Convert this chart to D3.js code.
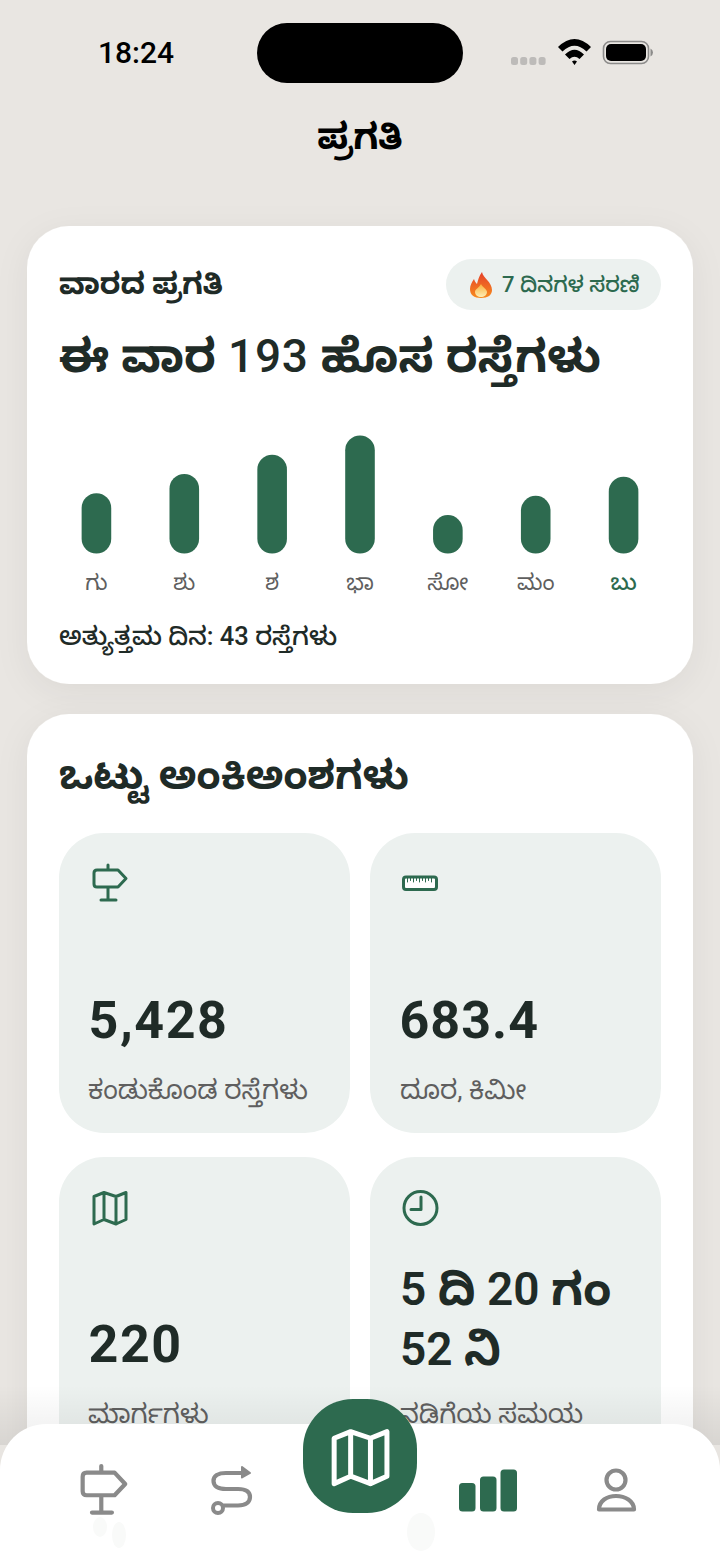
<!DOCTYPE html>
<html>
<head>
<meta charset="utf-8">
<script src="https://cdn.jsdelivr.net/npm/d3@7"></script>
<style>
html, body { margin: 0; padding: 0; background: #e9e6e2; }
svg { display: block; }
text { font-family: "Noto Sans Kannada", "Noto Sans", Roboto, sans-serif; }
.x-axis path, .x-axis line { display: none; }
</style>
</head>
<body>
<div id="chart"></div>
<script>
// Chart data
var days = ["ಗು", "ಶು", "ಶ", "ಭಾ", "ಸೋ", "ಮಂ", "ಬು"];
var roads = [22, 29, 36, 43, 14, 21, 28];
var statValues = ["5,428", "683.4", "220"];
var statLabels = ["ಕಂಡುಕೊಂಡ ರಸ್ತೆಗಳು", "ದೂರ, ಕಿಮೀ", "ಮಾರ್ಗಗಳು", "ನಡಿಗೆಯ ಸಮಯ"];
var timeLines = ["5 ದಿ 20 ಗಂ", "52 ನಿ"];

var w = 720;
var h = 1564;
var green = "#2d6a4f";
var dark = "#1f2b27";
var tile = "#ecf1ef";
var gray = "#8a8a8a";

var svg = d3.select("#chart")
    .append("svg")
    .attr("width", w)
    .attr("height", h);

var defs = svg.append("defs");

var shadow = defs.append("filter").attr("id", "shadow")
    .attr("x", "-10%").attr("y", "-10%").attr("width", "120%").attr("height", "120%");
shadow.append("feDropShadow")
    .attr("dx", 0).attr("dy", 8).attr("stdDeviation", 16)
    .attr("flood-color", "#000").attr("flood-opacity", 0.06);

var fade = defs.append("linearGradient").attr("id", "fade")
    .attr("x1", 0).attr("y1", 0).attr("x2", 0).attr("y2", 1);
fade.append("stop").attr("offset", "0%").attr("stop-color", "#000").attr("stop-opacity", 0);
fade.append("stop").attr("offset", "100%").attr("stop-color", "#000").attr("stop-opacity", 0.07);

var flameOuter = defs.append("linearGradient").attr("id", "flameOuter")
    .attr("x1", 0).attr("y1", 0).attr("x2", 0).attr("y2", 1);
flameOuter.append("stop").attr("offset", "0%").attr("stop-color", "#e5402a");
flameOuter.append("stop").attr("offset", "100%").attr("stop-color", "#f78c1e");

var flameInner = defs.append("linearGradient").attr("id", "flameInner")
    .attr("x1", 0).attr("y1", 0).attr("x2", 0).attr("y2", 1);
flameInner.append("stop").attr("offset", "0%").attr("stop-color", "#fbb03b");
flameInner.append("stop").attr("offset", "100%").attr("stop-color", "#fdeeb5");

// Kannada runs use the Kannada font, digit runs come from Roboto and can be lighter
function label(x, y, str, size, weight, fill, anchor, digitWeight) {
    var t = svg.append("text")
        .attr("x", x).attr("y", y)
        .attr("font-size", size)
        .attr("font-weight", weight)
        .attr("fill", fill)
        .attr("text-anchor", anchor || "start");
    str.match(/[\u0C80-\u0CFF]+|[^\u0C80-\u0CFF]+/g).forEach(function (run) {
        var span = t.append("tspan").text(run);
        if (!/[\u0C80-\u0CFF]/.test(run)) {
            span.attr("class", "digits")
                .style("font-family", "Roboto")
                .attr("font-weight", digitWeight || weight);
        }
    });
    return t;
}

// Wider digit spacing for the big numbers
function track(t, spacing) {
    t.selectAll(".digits").style("letter-spacing", spacing);
    return t;
}

function card(x, y, width, height, r, fill) {
    return svg.append("rect")
        .attr("x", x).attr("y", y)
        .attr("width", width).attr("height", height)
        .attr("rx", r).attr("ry", r)
        .attr("fill", fill);
}

function icon(x, y, k, d, color, sw) {
    return svg.append("path")
        .attr("transform", "translate(" + x + "," + y + ") scale(" + k + ")")
        .attr("d", d)
        .attr("fill", "none")
        .attr("stroke", color)
        .attr("stroke-width", sw / k)
        .attr("stroke-linecap", "round")
        .attr("stroke-linejoin", "round");
}

var signPath = "M16,0V5M5,5H26L34,13.5L26,22H5Q2,22 2,19V8Q2,5 5,5ZM16,22V35M9,35H24";
var mapPath = "M1,5L11,1L23,5L33,1V28L23,32.5L11,28L1,32.5ZM11,1V28M23,5V32.5";

// Status bar
svg.append("text").attr("x", 98).attr("y", 63)
    .attr("font-size", 30).attr("font-weight", 500).attr("fill", "#000")
    .style("font-family", "Roboto").text("18:24");
card(257, 23, 206, 60, 30, "#000");
svg.append("g").selectAll("rect")
    .data([0, 1, 2, 3])
    .enter().append("rect")
    .attr("x", function (d) { return 511 + d * 9.2; })
    .attr("y", 57).attr("width", 7).attr("height", 8).attr("rx", 2.5)
    .attr("fill", "#bdbbb9");
// wifi
svg.append("path")
    .attr("d", "M558,47Q574.5,31 591,47L586.5,51.5Q574.5,40 562.5,51.5ZM565,54.5Q574.5,45 584,54.5L579.5,59Q574.5,54.5 569.5,59ZM572,61.5Q574.5,59.5 577,61.5L574.5,65Z")
    .attr("fill", "#000");
// battery
card(603.5, 41.5, 45, 22, 7, "none").attr("stroke", "#8c8b8a").attr("stroke-width", 1.6);
card(606, 44, 40, 17, 5, "#000");
svg.append("path").attr("d", "M650.5,48.5Q653,50 653,52.5Q653,55 650.5,56.5Z").attr("fill", "#8c8b8a");

// Title
label(360, 149, "ಪ್ರಗತಿ", 36, 700, "#000", "middle");

// Weekly card
card(27, 226, 666, 458, 42, "#fff").attr("filter", "url(#shadow)");
label(59, 294, "ವಾರದ ಪ್ರಗತಿ", 29.8, 700, dark);
card(446, 259, 215, 51, 25.5, tile);

// Flame badge
svg.append("path")
    .attr("d", "M482,272C483,278 492,282 492,290C492,295 488,298 481,298C474,298 470,295 470,289C470,285 472,282 474,279C475,282 476,283 477,284C478,280 479,276 482,272Z")
    .attr("fill", "url(#flameOuter)");
svg.append("path")
    .attr("d", "M481,284C482,287 487,289 487,292C487,295 484,297 481,297C478,297 475,295 475,292C475,289 479,288 481,284Z")
    .attr("fill", "url(#flameInner)");
label(502, 292, "7 ದಿನಗಳ ಸರಣಿ", 22, 500, green);

track(label(59, 372, "ಈ ವಾರ 193 ಹೊಸ ರಸ್ತೆಗಳು", 46, 700, dark, "start", 500), "0.015em");

// Bars
var xScale = d3.scaleBand()
    .domain(days)
    .range([52.5, 667.5]);

var yScale = d3.scaleLinear()
    .domain([0, d3.max(roads)])
    .range([553.5, 435.5]);

var barWidth = 29.6;

svg.append("g").selectAll("rect")
    .data(roads)
    .enter().append("rect")
    .attr("x", function (d, i) { return xScale(days[i]) + xScale.bandwidth() / 2 - barWidth / 2; })
    .attr("y", function (d) { return yScale(d); })
    .attr("width", barWidth)
    .attr("height", function (d) { return yScale(0) - yScale(d); })
    .attr("rx", barWidth / 2)
    .attr("fill", green);

var xAxis = d3.axisBottom(xScale).tickSize(0).tickPadding(0);
var xGroup = svg.append("g")
    .attr("class", "x-axis")
    .attr("transform", "translate(0,574)")
    .call(xAxis);
xGroup.attr("font-family", null).attr("font-size", null);
xGroup.selectAll("text")
    .attr("font-size", 22)
    .attr("fill", function (d, i) { return i === days.length - 1 ? green : "#5f5f5f"; })
    .attr("font-weight", function (d, i) { return i === days.length - 1 ? 500 : 400; });

label(59, 645, "ಅತ್ಯುತ್ತಮ ದಿನ: 43 ರಸ್ತೆಗಳು", 25.5, 500, dark);

// Totals card
card(27, 714, 666, 900, 42, "#fff").attr("filter", "url(#shadow)");
label(59, 789, "ಒಟ್ಟು ಅಂಕಿಅಂಶಗಳು", 39.5, 700, dark);

card(59, 833, 291, 300, 45, tile);
card(370, 833, 291, 300, 45, tile);
card(59, 1157, 291, 340, 45, tile);
card(370, 1157, 291, 340, 45, tile);

icon(92, 865, 1, signPath, green, 3);

// ruler icon
card(403.5, 877, 33, 12.5, 2.5, "#fff").attr("stroke", green).attr("stroke-width", 3);
icon(403.5, 877, 1, "M4,0.5V5M7,0.5V3.5M10,0.5V5M13,0.5V3.5M16,0.5V5M19,0.5V3.5M22,0.5V5M25,0.5V3.5M28,0.5V5", green, 1);

icon(93, 1191.5, 1, mapPath, green, 3);

svg.append("circle").attr("cx", 420.5).attr("cy", 1208).attr("r", 16.5)
    .attr("fill", "none").attr("stroke", green).attr("stroke-width", 3);
icon(0, 0, 1, "M421,1197V1209.5H411", green, 3);

track(label(88.5, 1038, statValues[0], 52, 700, dark), "0.03em");
track(label(399.5, 1038, statValues[1], 52, 700, dark), "0.02em");
track(label(88.5, 1362, statValues[2], 52, 700, dark), "0.03em");
label(400, 1305, timeLines[0], 46, 700, dark, "start", 600);
label(400, 1365, timeLines[1], 46, 700, dark, "start", 600);

label(88, 1099, statLabels[0], 26.5, 400, "#5f5f5f");
label(400, 1099, statLabels[1], 26.5, 400, "#5f5f5f");
label(88, 1423, statLabels[2], 26.5, 400, "#5f5f5f");
label(400, 1423, statLabels[3], 26.5, 400, "#5f5f5f");

// Fade above the tab bar
svg.append("rect").attr("x", 0).attr("y", 1385).attr("width", w).attr("height", 60)
    .attr("fill", "url(#fade)");

// Tab bar
card(0, 1424, w, 200, 46, "#fff");

icon(80, 1466, 1.33, signPath, gray, 4.2);
icon(0, 0, 1, "M243,1473H226C218,1473 213.5,1476 213.5,1481C213.5,1486 218,1489 226,1489H238C246,1489 250,1492 250,1497C250,1502 246,1505.5 238,1505.5H224", gray, 4.2);
svg.append("path").attr("d", "M242,1467L250,1473L242,1477.5Z").attr("fill", gray).attr("stroke", gray)
    .attr("stroke-width", 2).attr("stroke-linejoin", "round");
svg.append("circle").attr("cx", 218).attr("cy", 1508).attr("r", 5)
    .attr("fill", "#fff").attr("stroke", gray).attr("stroke-width", 4);

// Ghost icons under the tab bar
svg.append("ellipse").attr("cx", 100).attr("cy", 1527).attr("rx", 7).attr("ry", 10).attr("fill", "#f9faf9");
svg.append("ellipse").attr("cx", 119).attr("cy", 1535).attr("rx", 7).attr("ry", 13).attr("fill", "#f9faf9");
svg.append("ellipse").attr("cx", 421).attr("cy", 1532).attr("rx", 14).attr("ry", 19).attr("fill", "#f9faf9");

// Centre button
card(303, 1399, 114, 114, 50, green);
icon(332.5, 1430, 1.65, mapPath, "#fff", 5);

// Active stats tab
var navBars = [
    { x: 459, top: 1483 },
    { x: 480, top: 1476.5 },
    { x: 500.5, top: 1469.5 }
];
svg.append("g").selectAll("rect")
    .data(navBars)
    .enter().append("rect")
    .attr("x", function (d) { return d.x; })
    .attr("y", function (d) { return d.top; })
    .attr("width", 16.5)
    .attr("height", function (d) { return 1511.5 - d.top; })
    .attr("rx", 3.5)
    .attr("fill", green);

// Profile tab
svg.append("circle").attr("cx", 616).attr("cy", 1480).attr("r", 9.5)
    .attr("fill", "none").attr("stroke", gray).attr("stroke-width", 4.2);
icon(0, 0, 1, "M599,1509.5C599,1501 607,1496 616,1496C625,1496 634,1501 634,1509.5Z", gray, 4.2);
</script>
</body>
</html>
